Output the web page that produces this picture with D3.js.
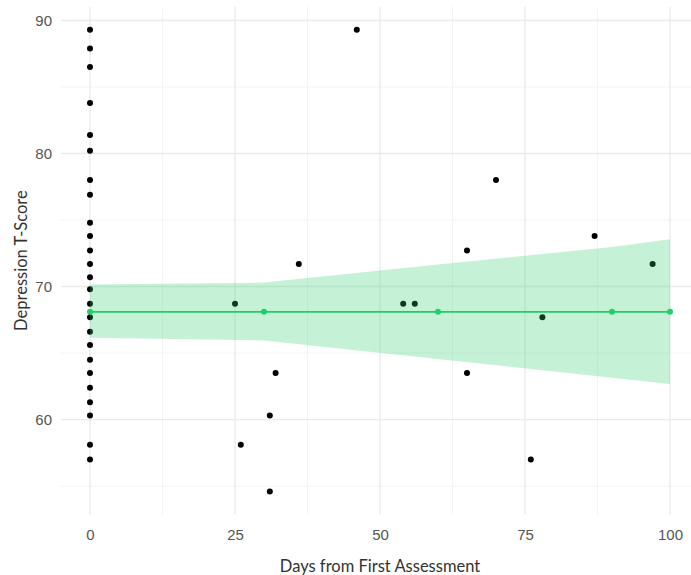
<!DOCTYPE html>
<html lang="en">
<head>
    <meta charset='utf-8'>
    <title>Depression T-Score over time</title>
    <style>
        body { margin: 0; background: #fff; }
        svg { display: block; font-family: Lato, "Open Sans", sans-serif; }
    </style>
</head>
<body>
<svg></svg>
<script src="https://cdn.jsdelivr.net/npm/d3@7"></script>
<script>
    // observed assessments
    const days = [
        0, 0, 0, 0, 0, 0, 0, 0, 0, 0, 0, 0, 0, 0, 0, 0, 0, 0, 0, 0, 0, 0, 0, 0, 0,
        25, 26, 31, 31, 32, 36, 46, 54, 56, 65, 65, 70, 76, 78, 87, 97
    ]
    const scores = [
        89.3, 87.9, 86.5, 83.8, 81.4, 80.2, 78.0, 76.9, 74.8, 73.8, 72.7, 71.7, 70.7,
        69.8, 68.7, 67.7, 66.6, 65.6, 64.5, 63.5, 62.4, 61.3, 60.3, 58.1, 57.0,
        68.7, 58.1, 60.3, 54.6, 63.5, 71.7, 89.3, 68.7, 68.7, 72.7, 63.5, 78.0, 57.0, 67.7, 73.8, 71.7
    ]

    // model predictions with confidence band
    const predDays = [0, 30, 60, 90, 100]
    const predFit = [68.1, 68.1, 68.1, 68.1, 68.1]
    const predLower = [66.15, 65.95, 64.55, 63.15, 62.67]
    const predUpper = [70.15, 70.3, 71.65, 72.98, 73.55]

    const xTicks = [0, 25, 50, 75, 100]
    const xMinor = [12.5, 37.5, 62.5, 87.5]
    const yTicks = [60, 70, 80, 90]
    const yMinor = [55, 65, 75, 85]

    const width = 691
    const height = 575
    const margin = ({top: 6.7, right: -8, bottom: 60.5, left: 61})
    const green = "#2ecc71"

    const expand = ext => {
        const pad = (ext[1] - ext[0]) * 0.05
        return [ext[0] - pad, ext[1] + pad]
    }

    const x = d3.scaleLinear()
        .domain(expand(d3.extent(days.concat(predDays))))
        .range([margin.left, width - margin.right])

    const y = d3.scaleLinear()
        .domain(expand(d3.extent(scores)))
        .range([height - margin.bottom, margin.top])

    const svg = d3.select("svg")
        .attr("width", width)
        .attr("height", height)
        .attr("viewBox", [0, 0, width, height])

    const [x0, x1] = x.range()
    const [y0, y1] = y.range()

    // grid
    const grid = svg.append("g")
    grid.selectAll(".vminor").data(xMinor).join("line")
        .attr("x1", d => x(d)).attr("x2", d => x(d))
        .attr("y1", y0).attr("y2", y1)
        .attr("stroke", "#f0f0f0").attr("stroke-width", 0.8)
    grid.selectAll(".hminor").data(yMinor).join("line")
        .attr("y1", d => y(d)).attr("y2", d => y(d))
        .attr("x1", x0).attr("x2", x1)
        .attr("stroke", "#f0f0f0").attr("stroke-width", 0.8)
    grid.selectAll(".vmajor").data(xTicks).join("line")
        .attr("x1", d => x(d)).attr("x2", d => x(d))
        .attr("y1", y0).attr("y2", y1)
        .attr("stroke", "#ebebeb").attr("stroke-width", 1.4)
    grid.selectAll(".hmajor").data(yTicks).join("line")
        .attr("y1", d => y(d)).attr("y2", d => y(d))
        .attr("x1", x0).attr("x2", x1)
        .attr("stroke", "#ebebeb").attr("stroke-width", 1.4)

    // observed points
    svg.append("g")
        .attr("fill", "black")
        .selectAll("circle")
        .data(d3.range(days.length))
        .join("circle")
        .attr("cx", i => x(days[i]))
        .attr("cy", i => y(scores[i]))
        .attr("r", 3)

    // confidence band
    const idx = d3.range(predDays.length)
    svg.append("path")
        .datum(idx)
        .attr("fill", green)
        .attr("fill-opacity", 0.28)
        .attr("d", d3.area()
            .x(i => x(predDays[i]))
            .y0(i => y(predLower[i]))
            .y1(i => y(predUpper[i])))

    svg.append("path")
        .datum(idx)
        .attr("fill", "none")
        .attr("stroke", "#1fcc68")
        .attr("stroke-width", 1.8)
        .attr("d", d3.line()
            .x(i => x(predDays[i]))
            .y(i => y(predFit[i])))

    svg.append("g")
        .attr("fill", "#1fd16b")
        .selectAll("circle")
        .data(idx)
        .join("circle")
        .attr("cx", i => x(predDays[i]))
        .attr("cy", i => y(predFit[i]))
        .attr("r", 3)

    // axes
    const xAxis = svg.append("g")
        .attr("transform", `translate(0,${y0})`)
        .call(d3.axisBottom(x).tickValues(xTicks).tickSize(0).tickPadding(14.5))
    xAxis.select(".domain").remove()
    xAxis.selectAll("text").attr("fill", "#555").attr("font-size", 15)

    const yAxis = svg.append("g")
        .attr("transform", `translate(${x0},0)`)
        .call(d3.axisLeft(y).tickValues(yTicks).tickSize(0).tickPadding(9))
    yAxis.select(".domain").remove()
    yAxis.selectAll("text").attr("fill", "#555").attr("font-size", 15)

    svg.append("text")
        .attr("x", x(50))
        .attr("y", 572)
        .attr("text-anchor", "middle")
        .attr("font-size", 16.5)
        .attr("fill", "#333")
        .text("Days from First Assessment")

    svg.append("text")
        .attr("transform", `translate(27,${(y0 + y1) / 2}) rotate(-90)`)
        .attr("text-anchor", "middle")
        .attr("font-size", 16.5)
        .attr("fill", "#333")
        .text("Depression T-Score")
</script>
</body>
</html>
